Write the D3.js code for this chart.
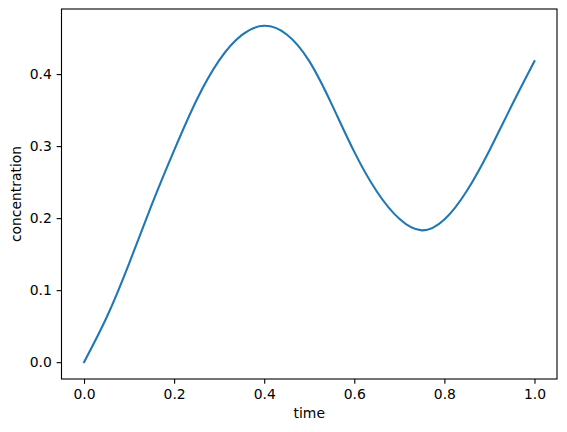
<!DOCTYPE html>
<html><head><meta charset="utf-8">
<script src="https://cdn.jsdelivr.net/npm/d3@7"></script>
<style>body{margin:0;background:#fff}svg{display:block}text{font-family:"DejaVu Sans",sans-serif;fill:#000}</style>
</head><body>
<svg id="c" width="567" height="432"></svg>
<script>
const times = [0,0.05,0.1,0.15,0.2,0.25,0.3,0.35,0.4,0.45,0.5,0.55,0.6,0.65,0.7,0.75,0.8,0.85,0.9,0.95,1.0];
const concentration = [0,0.062,0.137,0.218,0.294,0.364,0.419,0.454,0.467,0.455,0.418,0.358,0.292,0.237,0.199,0.183,0.198,0.238,0.294,0.357,0.418];
const xTicks = [0,0.2,0.4,0.6,0.8,1.0];
const yTicks = [0,0.1,0.2,0.3,0.4];
const xLabel = "time", yLabel = "concentration";

const L=61.5, R=557, T=9, B=379;
const svg = d3.select("#c");
const xmin=0,xmax=1, ymin=0, ymax=d3.max(concentration);
const xm=(xmax-xmin)*0.05, ym=(ymax-ymin)*0.05;
const x = d3.scaleLinear().domain([xmin-xm,xmax+xm]).range([L,R]);
const y = d3.scaleLinear().domain([ymin-ym,ymax+ym]).range([B,T]);
const fs = 13.9;

const xa = svg.append("g").attr("transform",`translate(0,${B})`)
  .call(d3.axisBottom(x).tickValues(xTicks).tickFormat(d3.format(".1f")).tickSize(4.86).tickPadding(4.9));
const ya = svg.append("g").attr("transform",`translate(${L},0)`)
  .call(d3.axisLeft(y).tickValues(yTicks).tickFormat(d3.format(".1f")).tickSize(4.86).tickPadding(4.9));
[xa,ya].forEach(a=>{
  a.select(".domain").remove();
  a.selectAll(".tick line").attr("stroke","#000").attr("stroke-width",1.1);
  a.selectAll(".tick text").attr("font-size",fs).attr("font-family","DejaVu Sans").attr("fill","#000");
});

const line = d3.line().x((d,i)=>x(times[i])).y(d=>y(d)).curve(d3.curveNatural);
svg.append("path").datum(concentration).attr("d",line)
  .attr("fill","none").attr("stroke","#1f77b4").attr("stroke-width",2.08).attr("stroke-linecap","square");

svg.append("rect").attr("x",L).attr("y",T).attr("width",R-L).attr("height",B-T)
  .attr("fill","none").attr("stroke","#000").attr("stroke-width",1.1);

svg.append("text").attr("x",(L+R)/2).attr("y",418).attr("text-anchor","middle").attr("font-size",fs).text(xLabel);
svg.append("text").attr("transform",`translate(21,${(T+B)/2}) rotate(-90)`).attr("text-anchor","middle").attr("font-size",fs).text(yLabel);
</script>
</body></html>
